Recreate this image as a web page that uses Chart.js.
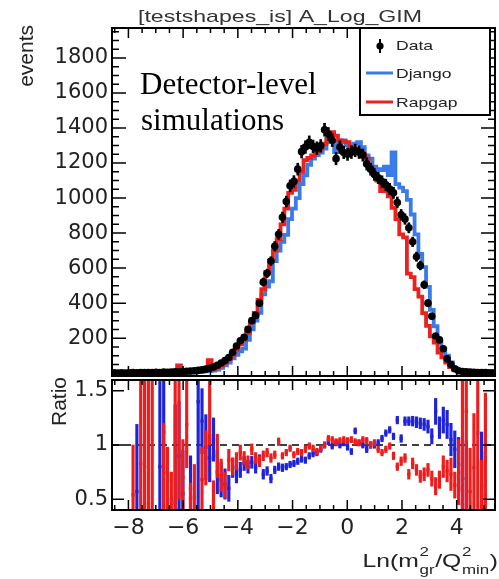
<!DOCTYPE html>
<html><head><meta charset="utf-8">
<script src="https://cdn.jsdelivr.net/npm/chart.js@4.4.1/dist/chart.umd.min.js"></script>
<style>
html,body{margin:0;padding:0;background:#fff;width:499px;height:579px;overflow:hidden;}
#main{position:absolute;left:0;top:0;}
#ratio{position:absolute;left:0;top:370px;}
</style></head><body>
<canvas id="main" width="499" height="380"></canvas>
<canvas id="ratio" width="499" height="209"></canvas>
<script>
// ---------- data ----------
const BIN_LOW = -8.6;
const BIN_WIDTH = 0.14;
const dataValues = [2,1,2,1,2,3,2,3,4,3, 4,5,4,6,5,7,8,8,9,11, 12,14,16,19,23,28,35,45,58,72, 90,120,155,185,205,250,300,330,400,520, 570,640,725,793,890,980,1070,1095,1165,1265, 1291,1319,1295,1285,1298,1390,1366,1330,1225,1291, 1260,1250,1262,1272,1262,1245,1195,1165,1135,1115, 1094,1075,1052,1030,975,905,880,830,750,665, 615,505,400,325,212,190,140,82,50,25, 14,10,8,6,5,4,3,3,2,2];
const dataErrors = [2,1,2,1,2,2,2,2,2,2, 2,2,2,3,3,3,3,3,3,4, 4,4,4,5,5,5,6,7,8,9, 10,11,12,14,14,16,17,18,20,23, 24,25,27,28,30,31,33,33,34,36, 36,36,36,36,36,37,37,36,35,36, 35,35,36,36,36,35,35,34,34,33, 33,33,32,32,31,30,30,29,27,26, 25,22,20,18,15,14,12,9,7,5, 4,3,3,2,2,2,2,2,1,1];
const djangoValues = [0,0,1,0,0,1,0,1,1,0, 2,1,2,1,3,2,3,2,4,3, 4,5,6,8,10,12,15,20,30,45, 60,85,105,125,140,190,250,300,345,450, 495,525,640,700,750,790,880,940,1000,1080, 1130,1190,1225,1245,1260,1282,1338,1319,1263,1319, 1329,1300,1282,1310,1319,1290,1244,1225,1179,1165, 1160,1179,1131,1260,1080,1060,1040,990,906,793, 681,606,493,362,268,174,140,100,61,30, 12,8,6,5,4,3,3,2,2,1];
const rapgapValues = [0,2,0,3,2,1,0,3,4,2, 5,6,3,5,7,4,8,45,6,12, 10,9,12,14,18,75,22,35,45,60, 80,105,135,165,190,230,290,345,418,480, 577,643,700,765,850,940,1030,1047,1100,1150, 1216,1230,1244,1265,1282,1310,1338,1376,1357,1329, 1325,1319,1291,1282,1270,1254,1225,1179,1140,1100, 1040,1056,1010,944,880,793,775,568,549,480, 437,343,270,210,174,117,90,61,35,20, 10,8,6,4,3,3,2,2,1,1];
const ratioDjango = [null,null,null,null,null,null,0.57,null,null,null, null,null,0.8,1.12,null,null,0.47,0.9,0.55,null, 0.6,null,1.4,1.22,0.98,0.88,1.05,0.75,0.68,0.64, 0.6,0.79,0.73,0.77,0.83,0.8,0.84,0.79,0.86,0.73, 0.76,0.69,0.77,0.8,0.79,0.8,0.82,0.83,0.85,0.87, 0.86,0.9,0.92,0.93,0.96,1.0,1.03,0.99,1.02,1.0, 1.02,0.98,0.94,1.13,1.02,1.0,0.96,1.0,1.0,1.02, 1.06,1.11,1.14,1.08,1.23,1.06,1.22,1.22,1.22,1.21, 1.2,1.19,1.17,1.08,1.31,1.16,1.23,1.19,1.05,0.96, 0.82,0.45,0.69,null,null,null,0.62,0.54,null,null];
const ratioDjangoErr = [null,null,null,null,null,null,0.62,null,null,null, null,null,0.85,0.7,null,null,0.9,0.5,0.4,null, 0.3,null,1.0,0.3,0.3,0.22,0.2,0.2,0.16,0.14, 0.12,0.09,0.08,0.07,0.065,0.06,0.055,0.05,0.05,0.045, 0.04,0.04,0.035,0.035,0.035,0.03,0.03,0.03,0.03,0.03, 0.03,0.03,0.03,0.03,0.028,0.028,0.028,0.028,0.028,0.028, 0.028,0.028,0.028,0.028,0.028,0.028,0.03,0.03,0.03,0.03, 0.03,0.03,0.03,0.03,0.035,0.035,0.04,0.04,0.045,0.05, 0.05,0.055,0.06,0.07,0.12,0.1,0.12,0.13,0.15,0.17, 0.25,0.3,0.35,null,null,null,0.5,0.4,null,null];
const ratioRapgap = [null,null,null,null,null,0.54,null,0.83,0.8,0.45, 1.7,null,null,0.75,0.68,0.5,2.0,3.0,0.7,1.19, 0.5,0.52,null,0.68,0.88,2.5,0.47,0.9,0.72,0.63, 0.86,0.8,0.85,0.93,0.88,0.84,0.96,0.88,0.85,0.9, 0.93,0.88,0.91,1.03,0.9,0.93,0.97,0.91,0.94,0.93, 0.96,0.99,0.97,0.94,0.97,1.0,1.06,1.05,1.03,1.04, 1.05,1.04,1.05,1.03,1.02,1.05,1.04,1.0,1.02,0.96, 0.93,0.96,0.99,0.9,0.8,0.85,0.88,0.73,0.83,0.77, 0.71,0.73,0.77,0.69,0.62,0.68,0.8,0.76,0.73,0.63, 0.75,0.6,1.31,0.57,0.79,1.11,0.46,0.88,null,null];
const ratioRapgapErr = [null,null,null,null,null,0.46,null,1.0,1.0,1.2, 1.5,null,null,0.45,0.3,0.25,1.6,2.5,0.35,0.4, 0.15,0.3,null,0.3,0.25,1.5,0.2,0.2,0.15,0.12, 0.1,0.08,0.08,0.07,0.06,0.06,0.05,0.05,0.05,0.045, 0.04,0.04,0.035,0.035,0.03,0.03,0.03,0.03,0.03,0.03, 0.03,0.03,0.03,0.03,0.028,0.028,0.028,0.028,0.028,0.028, 0.028,0.028,0.028,0.028,0.028,0.028,0.03,0.03,0.03,0.03, 0.03,0.03,0.03,0.035,0.035,0.04,0.04,0.045,0.05,0.05, 0.055,0.06,0.06,0.07,0.08,0.08,0.1,0.1,0.15,0.12, 0.3,1.0,1.0,0.4,0.5,1.0,0.4,0.6,null,null];
const xTickValues = [-8,-6,-4,-2,0,2,4];
const mainYTickValues = [200,400,600,800,1000,1200,1400,1600,1800];
const ratioYTickValues = [0.5,1,1.5];
const TITLE = '[testshapes_is] A_Log_GIM';
const Y_TITLE = 'events';
const RATIO_TITLE = 'Ratio';
const LEGEND_LABELS = ['Data','Django','Rapgap'];
const NOTE_LINES = ['Detector-level','simulations'];

// ---------- derived tables ----------
const NBINS = dataValues.length;
const binEdges = Array.from({length: NBINS + 1}, (_, i) => BIN_LOW + i * BIN_WIDTH);
const binCenters = dataValues.map((_, i) => (binEdges[i] + binEdges[i + 1]) / 2);
const X_MIN = binEdges[0], X_MAX = binEdges[NBINS];
const stepPoints = vals => {
  const pts = vals.map((v, i) => ({x: binEdges[i], y: v}));
  pts.push({x: binEdges[NBINS], y: vals[NBINS - 1]});
  return pts;
};
const errRanges = (vals, errs) => vals.map((v, i) => v === null ? null : ({x: binCenters[i], y: [v - errs[i], v + errs[i]]})).filter(p => p);
const centerPoints = vals => vals.map((v, i) => v === null ? null : ({x: binCenters[i], y: v})).filter(p => p);

const COL_DJANGO = '#3b7be9', COL_RAPGAP = '#e9211f';
const COL_DJANGO_R = '#1e22d8', COL_RAPGAP_R = '#ee1c1c';
const fmtNum = v => (v < 0 ? '\u2212' + Math.abs(v) : String(v));

// ---------- plugins ----------
const framePlugin = {
  id: 'frame',
  afterDatasetsDraw(chart, args, o) {
    const {ctx, chartArea: a} = chart;
    const xs = chart.scales.x, ys = chart.scales.y;
    ctx.save();
    ctx.strokeStyle = '#000';
    ctx.lineWidth = 1.5;
    ctx.beginPath();
    for (let v = o.xMinorFrom; v <= xs.max + 1e-9; v += o.xMinorStep) {
      const p = xs.getPixelForValue(v);
      const r = v / o.xMajorStep;
      const L = Math.abs(r - Math.round(r)) < 1e-6 ? o.xMajorLen : o.xMinorLen;
      ctx.moveTo(p, a.bottom); ctx.lineTo(p, a.bottom - L);
      ctx.moveTo(p, a.top); ctx.lineTo(p, a.top + L);
    }
    for (let v = o.yMinorFrom; v <= ys.max + 1e-9; v += o.yMinorStep) {
      const p = ys.getPixelForValue(v);
      const r = v / o.yMajorStep;
      const L = Math.abs(r - Math.round(r)) < 1e-6 ? o.yMajorLen : o.yMinorLen;
      ctx.moveTo(a.left, p); ctx.lineTo(a.left + L, p);
      ctx.moveTo(a.right, p); ctx.lineTo(a.right - L, p);
    }
    ctx.stroke();
    ctx.lineWidth = 2;
    ctx.strokeRect(a.left, a.top, a.right - a.left, a.bottom - a.top);
    ctx.restore();
  }
};

function stretchText(ctx, text, x, y, font, color, sx, align) {
  ctx.save();
  ctx.font = font; ctx.fillStyle = color; ctx.textBaseline = 'alphabetic'; ctx.textAlign = 'left';
  const w = ctx.measureText(text).width * sx;
  const x0 = align === 'right' ? x - w : (align === 'center' ? x - w / 2 : x);
  ctx.translate(x0, y); ctx.scale(sx, 1);
  ctx.fillText(text, 0, 0);
  ctx.restore();
  return w;
}
function rotatedText(ctx, text, x, yEnd, font, color) {
  ctx.save();
  ctx.font = font; ctx.fillStyle = color; ctx.textAlign = 'right'; ctx.textBaseline = 'alphabetic';
  ctx.translate(x, yEnd); ctx.rotate(-Math.PI / 2);
  ctx.fillText(text, 0, 0);
  ctx.restore();
}

const mainTextPlugin = {
  id: 'mainText',
  afterDraw(chart) {
    const ctx = chart.ctx;
    const a = chart.chartArea;
    stretchText(ctx, TITLE, 138, 22, '17px "Liberation Sans"', '#333', 1.36, 'left');
    rotatedText(ctx, Y_TITLE, 33, 25, '21px "Liberation Sans"', '#222');
    ctx.save();
    ctx.font = '31px "Liberation Serif"'; ctx.fillStyle = '#000'; ctx.textAlign = 'left'; ctx.textBaseline = 'alphabetic';
    ctx.fillText(NOTE_LINES[0], 140, 94);
    ctx.fillText(NOTE_LINES[1], 141, 130);
    ctx.restore();
    ctx.save();
    const bx = 360, by = a.top, bw = 130, bh = 87;
    ctx.fillStyle = '#fff'; ctx.fillRect(bx, by, bw, bh);
    ctx.strokeStyle = '#000'; ctx.lineWidth = 2; ctx.strokeRect(bx, by, bw, bh);
    ctx.fillStyle = '#000';
    ctx.fillRect(379, 39, 2, 14);
    ctx.beginPath(); ctx.arc(380, 46, 3.6, 0, Math.PI * 2); ctx.fill();
    ctx.lineWidth = 3;
    ctx.strokeStyle = COL_DJANGO; ctx.beginPath(); ctx.moveTo(366, 73); ctx.lineTo(393, 73); ctx.stroke();
    ctx.strokeStyle = COL_RAPGAP; ctx.beginPath(); ctx.moveTo(366, 102); ctx.lineTo(393, 102); ctx.stroke();
    ctx.restore();
    stretchText(ctx, LEGEND_LABELS[0], 396, 50, '13px "Liberation Sans"', '#222', 1.35, 'left');
    stretchText(ctx, LEGEND_LABELS[1], 396, 78, '13px "Liberation Sans"', '#222', 1.35, 'left');
    stretchText(ctx, LEGEND_LABELS[2], 396, 107, '13px "Liberation Sans"', '#222', 1.35, 'left');
  }
};

const ratioTextPlugin = {
  id: 'ratioText',
  afterDraw(chart) {
    const ctx = chart.ctx;
    rotatedText(ctx, RATIO_TITLE, 66, 7, '21px "Liberation Sans"', '#222');
    const sx = 1.3, big = '19px "Liberation Sans"', small = '13px "Liberation Sans"';
    const parts = [
      {t: 'Ln(m', f: big}, {sup: '2', sub: 'gr'}, {t: '/Q', f: big}, {sup: '2', sub: 'min'}, {t: ')', f: big}
    ];
    ctx.save();
    let total = 0;
    for (const p of parts) {
      if (p.t) { ctx.font = p.f; p.w = ctx.measureText(p.t).width; }
      else { ctx.font = small; p.w = Math.max(ctx.measureText(p.sup).width, ctx.measureText(p.sub).width) + 1; }
      total += p.w;
    }
    const base = 197;
    ctx.translate(498 - total * sx, base);
    ctx.scale(sx, 1);
    ctx.fillStyle = '#222'; ctx.textAlign = 'left'; ctx.textBaseline = 'alphabetic';
    let x = 0;
    for (const p of parts) {
      if (p.t) { ctx.font = p.f; ctx.fillText(p.t, x, 0); }
      else { ctx.font = small; ctx.fillText(p.sup, x + 0.5, -11.5); ctx.fillText(p.sub, x + 0.5, 7); }
      x += p.w;
    }
    ctx.restore();
  }
};

// ---------- main panel ----------
new Chart(document.getElementById('main'), {
  type: 'scatter',
  data: {
    datasets: [
      {type: 'scatter', label: LEGEND_LABELS[0], data: centerPoints(dataValues),
       pointRadius: 3.8, pointBackgroundColor: '#000', pointBorderWidth: 0, order: 0},
      {type: 'bar', label: 'data errors', data: errRanges(dataValues, dataErrors),
       backgroundColor: '#000', barThickness: 2, grouped: false, borderWidth: 0, order: 1},
      {type: 'line', label: LEGEND_LABELS[2], data: stepPoints(rapgapValues), stepped: 'before',
       borderColor: COL_RAPGAP, borderWidth: 3.8, pointRadius: 0, fill: false, order: 2},
      {type: 'line', label: LEGEND_LABELS[1], data: stepPoints(djangoValues), stepped: 'before',
       borderColor: COL_DJANGO, borderWidth: 3.8, pointRadius: 0, fill: false, order: 3}
    ]
  },
  options: {
    responsive: false, animation: false, devicePixelRatio: 1,
    layout: {padding: {left: 0, right: 1, top: 28, bottom: 0}},
    plugins: {
      legend: {display: false}, tooltip: {enabled: false},
      frame: {xMinorFrom: -8.5, xMinorStep: 0.5, xMajorStep: 2, xMajorLen: 10, xMinorLen: 5,
              yMinorFrom: 0, yMinorStep: 50, yMajorStep: 200, yMajorLen: 14, yMinorLen: 7}
    },
    scales: {
      x: {type: 'linear', min: X_MIN, max: X_MAX, display: false, offset: false},
      y: {type: 'linear', min: -16, max: 1971, position: 'left',
          afterFit: s => { s.width = 112; s.paddingTop = 0; s.paddingBottom = 0; },
          afterBuildTicks: s => { s.ticks = mainYTickValues.map(v => ({value: v})); },
          ticks: {font: {family: 'DejaVu Sans', size: 21}, color: '#222', padding: 4, callback: v => fmtNum(v)},
          grid: {display: false, drawTicks: false}, border: {display: false}}
    }
  },
  plugins: [framePlugin, mainTextPlugin]
});

// ---------- ratio panel ----------
new Chart(document.getElementById('ratio'), {
  type: 'scatter',
  data: {
    datasets: [
      {type: 'scatter', label: 'Rapgap/Data', data: centerPoints(ratioRapgap),
       pointStyle: 'rect', pointRadius: 2.3, pointBackgroundColor: COL_RAPGAP_R, pointBorderWidth: 0, order: 0},
      {type: 'bar', label: 'Rapgap/Data errors', data: errRanges(ratioRapgap, ratioRapgapErr),
       backgroundColor: COL_RAPGAP_R, barThickness: 2.5, grouped: false, borderWidth: 0, order: 1},
      {type: 'scatter', label: 'Django/Data', data: centerPoints(ratioDjango),
       pointStyle: 'rect', pointRadius: 2.3, pointBackgroundColor: COL_DJANGO_R, pointBorderWidth: 0, order: 2},
      {type: 'bar', label: 'Django/Data errors', data: errRanges(ratioDjango, ratioDjangoErr),
       backgroundColor: COL_DJANGO_R, barThickness: 2.5, grouped: false, borderWidth: 0, order: 3},
      {type: 'line', label: 'unity', data: [{x: X_MIN, y: 1}, {x: X_MAX, y: 1}],
       borderColor: '#000', borderWidth: 1.5, borderDash: [7, 5], pointRadius: 0, fill: false, order: 4}
    ]
  },
  options: {
    responsive: false, animation: false, devicePixelRatio: 1,
    layout: {padding: {left: 0, right: 1, top: 10, bottom: 0}},
    plugins: {
      legend: {display: false}, tooltip: {enabled: false},
      frame: {xMinorFrom: -8.5, xMinorStep: 0.5, xMajorStep: 2, xMajorLen: 10, xMinorLen: 5,
              yMinorFrom: 0.5, yMinorStep: 0.5, yMajorStep: 0.5, yMajorLen: 12, yMinorLen: 12}
    },
    scales: {
      x: {type: 'linear', min: X_MIN, max: X_MAX, position: 'bottom', offset: false,
          afterFit: s => { s.height = 69; s.paddingLeft = 0; s.paddingRight = 0; },
          afterBuildTicks: s => { s.ticks = xTickValues.map(v => ({value: v})); },
          ticks: {font: {family: 'DejaVu Sans', size: 22}, color: '#222', padding: 5, maxRotation: 0, autoSkip: false, callback: v => fmtNum(v)},
          grid: {display: false, drawTicks: false}, border: {display: false}},
      y: {type: 'linear', min: 0.4, max: 1.6, position: 'left',
          afterFit: s => { s.width = 112; s.paddingTop = 0; s.paddingBottom = 0; },
          afterBuildTicks: s => { s.ticks = ratioYTickValues.map(v => ({value: v})); },
          ticks: {font: {family: 'DejaVu Sans', size: 21}, color: '#222', padding: 4, callback: v => fmtNum(v)},
          grid: {display: false, drawTicks: false}, border: {display: false}}
    }
  },
  plugins: [framePlugin, ratioTextPlugin]
});
</script>
</body></html>
